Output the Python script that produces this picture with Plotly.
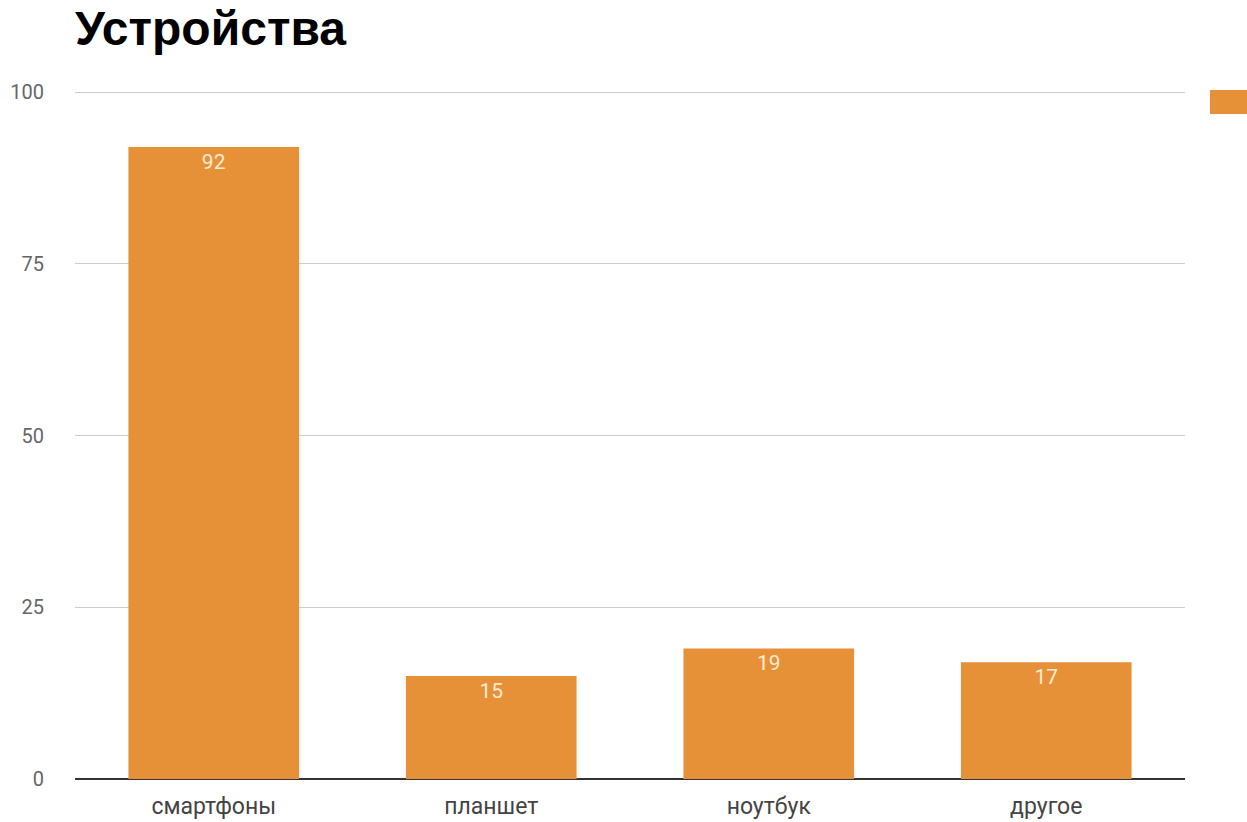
import plotly.graph_objects as go

categories = ["смартфоны", "планшет", "ноутбук", "другое"]
values = [92, 15, 19, 17]
y_ticks = [0, 25, 50, 75, 100]

BAR = "#E69138"

fig = go.Figure(go.Bar(
    x=categories, y=values,
    marker=dict(color=BAR, line=dict(width=0)),
    text=[str(v) for v in values],
    textposition="inside", insidetextanchor="end",
    textfont=dict(family="Roboto", size=21, color="#FDEBD3"),
    textangle=0,
    showlegend=False,
    cliponaxis=False,
))

fig.update_layout(
    width=1247, height=822,
    margin=dict(l=75, r=62, t=90, b=43, autoexpand=False),
    paper_bgcolor="white", plot_bgcolor="white",
    bargap=0.385,
    uniformtext=dict(mode=False),
    title=dict(text="<b>Устройства</b>", x=0, xref="paper", xanchor="left",
               y=0.986, yanchor="top",
               font=dict(family="Liberation Sans", size=48, color="#000000")),
    xaxis=dict(showgrid=False, showline=False, ticks="", zeroline=False,
               automargin=False, ticklabelstandoff=11,
               tickfont=dict(family="Roboto", size=23, color="#444444")),
    yaxis=dict(range=[0, 100.3], tickvals=y_ticks, showgrid=True, gridcolor="#CCCCCC",
               gridwidth=1, zeroline=True, zerolinecolor="#333333", zerolinewidth=1.5,
               automargin=False, ticks="", ticklabelstandoff=30,
               tickfont=dict(family="Roboto", size=20, color="#666666")),
    shapes=[dict(type="rect", xref="paper", yref="paper",
                 x0=1.0225, x1=1.07, y0=0.965, y1=1.0,
                 fillcolor=BAR, line=dict(width=0))],
)

fig.write_html("out.html", config={"displayModeBar": False},
               post_script="document.body.style.margin='0px';")
